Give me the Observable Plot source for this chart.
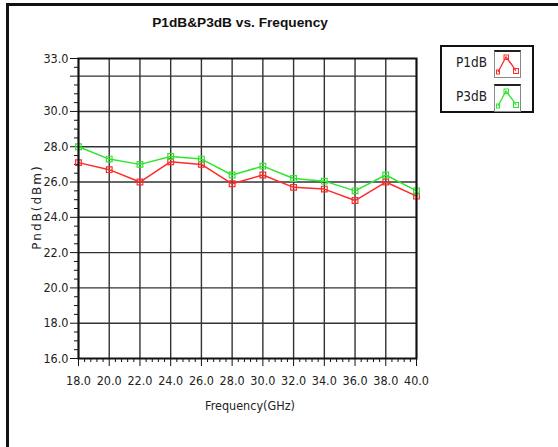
<!DOCTYPE html>
<html>
<head>
<meta charset="utf-8">
<script src="https://cdn.jsdelivr.net/npm/d3@7"></script>
<script src="https://cdn.jsdelivr.net/npm/@observablehq/plot@0.6"></script>
<style>
  html, body { margin: 0; padding: 0; background: #fff; }
  #page { position: relative; width: 558px; height: 447px; overflow: hidden; background: #fff; }
  #frameTop { position: absolute; left: 6px; top: 3px; width: 560px; height: 3px; background: #111; }
  #frameLeft { position: absolute; left: 6px; top: 3px; width: 3px; height: 460px; background: #111; }
  #title { position: absolute; left: 100px; width: 280px; top: 15px; text-align: center;
           font: bold 13.7px "Liberation Sans", Arial, sans-serif; color: #111; line-height: 16px; }
  #chart { position: absolute; left: 0; top: 40px; }
  #xlabel { position: absolute; left: 150px; width: 200px; top: 398px; text-align: center;
            font: 12.5px "DejaVu Sans Condensed", sans-serif; color: #222; }
  #ylabel { position: absolute; left: 37px; top: 207px; transform: translate(-50%, -50%) rotate(-90deg);
            font: 12px "DejaVu Sans", sans-serif; letter-spacing: 2px; color: #222; white-space: nowrap; }
  #legend { position: absolute; left: 440px; top: 45px; width: 90px; height: 64px; border: 2px solid #111; background: #fff; }
  .lrow { position: absolute; left: 0; width: 90px; height: 30px; }
  .ltext { position: absolute; right: 45px; top: 6px; font: 13.5px "DejaVu Sans Condensed", sans-serif; color: #222; }
  .licon { position: absolute; left: 52px; top: 2px; width: 25px; height: 25px; border: 1px solid #888; border-top: 2px solid #222; background: #fff; }
</style>
</head>
<body>
<div id="page">
  <div id="frameTop"></div>
  <div id="frameLeft"></div>
  <div id="title">P1dB&amp;P3dB vs. Frequency</div>
  <div id="chart"></div>
  <div id="xlabel">Frequency(GHz)</div>
  <div id="ylabel">PndB(dBm)</div>
  <div id="legend"></div>
</div>
<script>
// ---- data ----
const freq = [18, 20, 22, 24, 26, 28, 30, 32, 34, 36, 38, 40];
const p1dB = [27.1, 26.7, 26.0, 27.15, 27.0, 25.9, 26.4, 25.7, 25.6, 24.95, 26.0, 25.2];
const p3dB = [28.0, 27.3, 27.0, 27.45, 27.3, 26.4, 26.9, 26.2, 26.05, 25.5, 26.4, 25.5];
const seriesNames = ["P1dB", "P3dB"];
const seriesColors = ["#ff2a2a", "#2ee62e"];
const xTicks = [18, 20, 22, 24, 26, 28, 30, 32, 34, 36, 38, 40];
const yTickLabels = [16, 18, 20, 22, 24, 26, 28, 30, 33];
const yGrid = [18, 20, 22, 24, 26, 28, 30, 32];

const xMinor = d3.range(18, 40.001, 0.4).map(v => +v.toFixed(1)).filter(v => !xTicks.includes(v));
const yMinor = d3.range(16, 33.001, 0.5).filter(v => !yTickLabels.includes(v) && !yGrid.includes(v));
const yMajor = [...yTickLabels, 32];

const rows = [];
freq.forEach((f, i) => {
  rows.push({series: "P1dB", f, v: p1dB[i]});
  rows.push({series: "P3dB", f, v: p3dB[i]});
});

const tickFont = '"DejaVu Sans Condensed", sans-serif';

const chart = Plot.plot({
  width: 558,
  height: 400,
  marginLeft: 78,
  marginRight: 142,
  marginTop: 18,
  marginBottom: 82,
  style: {fontFamily: tickFont, fontSize: "12.5px", color: "#222", background: "transparent"},
  x: {domain: [18, 40], label: null},
  y: {domain: [16, 33], label: null},
  color: {domain: seriesNames, range: seriesColors},
  marks: [
    Plot.ruleX(xTicks, {stroke: "#333", strokeWidth: 1.4}),
    Plot.ruleY(yGrid, {stroke: "#333", strokeWidth: 1.4}),
    Plot.axisX(xMinor, {tickSize: 4, tickPadding: 0, tickFormat: () => "", stroke: "#111", label: null}),
    Plot.axisX(xTicks, {tickSize: 8, tickPadding: 10, tickFormat: d => d.toFixed(1), stroke: "#111", fill: "#222", label: null}),
    Plot.axisY(yMinor, {tickSize: 4, tickPadding: 0, tickFormat: () => "", stroke: "#111", label: null}),
    Plot.axisY(yMajor, {tickSize: 8, tickPadding: 2, tickFormat: d => d === 32 ? "" : d.toFixed(1), stroke: "#111", fill: "#222", label: null}),
    Plot.line(rows, {x: "f", y: "v", z: "series", stroke: "series", strokeWidth: 1.5}),
    Plot.dot(rows, {x: "f", y: "v", stroke: "series", symbol: "square", r: 3.2, fill: "none", strokeWidth: 1.2}),
    Plot.frame({stroke: "#111", strokeWidth: 2})
  ]
});
document.getElementById("chart").appendChild(chart);

// ---- legend ----
const legend = document.getElementById("legend");
seriesNames.forEach((name, i) => {
  const row = document.createElement("div");
  row.className = "lrow";
  row.style.top = (i * 34 + 1) + "px";
  const c = seriesColors[i];
  row.innerHTML = `<div class="ltext">${name}</div>
    <div class="licon"><svg width="25" height="25">
      <polyline points="3,20 11,5 17,13 21,19" fill="none" stroke="${c}" stroke-width="1.3"/>
      <rect x="1.5" y="18" width="3" height="4" fill="none" stroke="${c}" stroke-width="1"/>
      <rect x="9" y="3" width="4.5" height="4.5" fill="none" stroke="${c}" stroke-width="1"/>
      <rect x="18.5" y="16.5" width="5" height="5" fill="none" stroke="${c}" stroke-width="1"/>
    </svg></div>`;
  legend.appendChild(row);
});
</script>
</body>
</html>
